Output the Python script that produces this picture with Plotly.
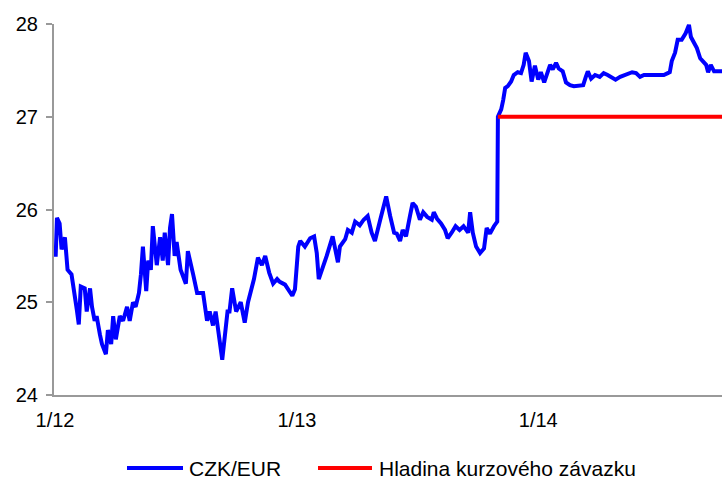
import plotly.graph_objects as go

# ---- data -----------------------------------------------------------------
czk_dates = [
    "2012-01-02", "2012-01-04", "2012-01-08", "2012-01-11", "2012-01-16", "2012-01-20",
    "2012-01-26", "2012-01-31", "2012-02-03", "2012-02-06", "2012-02-09", "2012-02-15",
    "2012-02-18", "2012-02-23", "2012-02-26", "2012-03-01", "2012-03-04", "2012-03-09",
    "2012-03-12", "2012-03-18", "2012-03-21", "2012-03-26", "2012-03-29", "2012-04-02",
    "2012-04-05", "2012-04-08", "2012-04-13", "2012-04-19", "2012-04-23", "2012-04-28",
    "2012-05-02", "2012-05-07", "2012-05-10", "2012-05-13", "2012-05-18", "2012-05-21",
    "2012-05-25", "2012-05-28", "2012-06-03", "2012-06-08", "2012-06-12", "2012-06-15",
    "2012-06-20", "2012-06-23", "2012-06-26", "2012-06-30", "2012-07-03", "2012-07-09",
    "2012-07-17", "2012-07-20", "2012-07-28", "2012-08-03", "2012-08-12", "2012-08-18",
    "2012-08-22", "2012-08-27", "2012-08-31", "2012-09-03", "2012-09-07", "2012-09-10",
    "2012-09-18", "2012-09-21", "2012-09-25", "2012-10-01", "2012-10-08", "2012-10-14",
    "2012-10-19", "2012-10-28", "2012-11-03", "2012-11-09", "2012-11-14", "2012-11-20",
    "2012-11-26", "2012-12-02", "2012-12-06", "2012-12-14", "2012-12-25", "2012-12-29",
    "2013-01-03", "2013-01-06", "2013-01-13", "2013-01-21", "2013-01-27", "2013-01-31",
    "2013-02-03", "2013-02-08", "2013-02-15", "2013-02-24", "2013-03-01", "2013-03-04",
    "2013-03-07", "2013-03-15", "2013-03-19", "2013-03-25", "2013-03-30", "2013-04-06",
    "2013-04-12", "2013-04-18", "2013-04-24", "2013-04-29", "2013-05-07", "2013-05-11",
    "2013-05-16", "2013-05-22", "2013-05-28", "2013-06-01", "2013-06-06", "2013-06-10",
    "2013-06-15", "2013-06-21", "2013-06-25", "2013-06-30", "2013-07-06", "2013-07-11",
    "2013-07-17", "2013-07-24", "2013-07-27", "2013-08-01", "2013-08-07", "2013-08-13",
    "2013-08-17", "2013-08-23", "2013-08-29", "2013-09-04", "2013-09-10", "2013-09-17",
    "2013-09-20", "2013-09-24", "2013-09-29", "2013-10-05", "2013-10-11", "2013-10-15",
    "2013-10-20", "2013-10-26", "2013-10-31", "2013-11-01", "2013-11-06", "2013-11-09",
    "2013-11-12", "2013-11-16", "2013-11-21", "2013-11-25", "2013-12-01", "2013-12-06",
    "2013-12-10", "2013-12-13", "2013-12-18", "2013-12-22", "2013-12-27", "2014-01-01",
    "2014-01-05", "2014-01-10", "2014-01-14", "2014-01-19", "2014-01-23", "2014-01-28",
    "2014-02-01", "2014-02-07", "2014-02-12", "2014-02-18", "2014-02-24", "2014-03-02",
    "2014-03-10", "2014-03-14", "2014-03-17", "2014-03-22", "2014-03-28", "2014-04-04",
    "2014-04-10", "2014-04-16", "2014-04-22", "2014-04-28", "2014-05-05", "2014-05-11",
    "2014-05-17", "2014-05-23", "2014-05-29", "2014-06-04", "2014-06-10", "2014-06-16",
    "2014-06-22", "2014-06-28", "2014-07-04", "2014-07-10", "2014-07-16", "2014-07-19",
    "2014-07-22", "2014-07-27", "2014-07-31", "2014-08-06", "2014-08-12", "2014-08-17",
    "2014-08-20", "2014-08-25", "2014-08-29", "2014-09-03", "2014-09-07", "2014-09-12",
    "2014-09-15", "2014-09-19", "2014-09-24", "2014-09-30", "2014-10-06",
]
czk_values = [
    25.49, 25.91, 25.85, 25.57, 25.70, 25.35,
    25.30, 25.10, 24.92, 24.76, 25.17, 25.15,
    24.90, 25.15, 24.95, 24.80, 24.85, 24.65,
    24.55, 24.44, 24.70, 24.55, 24.85, 24.60,
    24.70, 24.85, 24.80, 24.95, 24.80, 25.00,
    24.95, 25.10, 25.30, 25.60, 25.12, 25.45,
    25.35, 25.82, 25.40, 25.70, 25.45, 25.75,
    25.40, 25.80, 25.95, 25.50, 25.65, 25.35,
    25.20, 25.55, 25.30, 25.10, 25.10, 24.80,
    24.90, 24.75, 24.90, 24.75, 24.55, 24.38,
    24.90, 24.90, 25.15, 24.90, 25.00, 24.78,
    25.00, 25.25, 25.48, 25.40, 25.50, 25.32,
    25.20, 25.25, 25.22, 25.19, 25.07, 25.14,
    25.60, 25.66, 25.60, 25.69, 25.71, 25.53,
    25.25, 25.35, 25.50, 25.71, 25.53, 25.43,
    25.60, 25.68, 25.78, 25.75, 25.87, 25.83,
    25.89, 25.93, 25.75, 25.66, 25.89, 26.00,
    26.14, 25.93, 25.75, 25.74, 25.66, 25.78,
    25.71, 25.93, 26.07, 26.03, 25.89, 25.97,
    25.92, 25.89, 25.97, 25.90, 25.85, 25.78,
    25.69, 25.75, 25.82, 25.78, 25.82, 25.75,
    25.97, 25.75, 25.60, 25.53, 25.58, 25.80,
    25.74, 25.82, 25.87, 27.00, 27.08, 27.18,
    27.31, 27.33, 27.38, 27.45, 27.48, 27.47,
    27.56, 27.69, 27.60, 27.38, 27.55, 27.40,
    27.48, 27.37, 27.47, 27.56, 27.51, 27.58,
    27.52, 27.49, 27.37, 27.34, 27.33, 27.33,
    27.34, 27.43, 27.49, 27.41, 27.45, 27.43,
    27.47, 27.45, 27.43, 27.40, 27.43, 27.45,
    27.47, 27.48, 27.47, 27.43, 27.45, 27.45,
    27.45, 27.44, 27.45, 27.45, 27.47, 27.48,
    27.60, 27.69, 27.83, 27.83, 27.90, 27.99,
    27.86, 27.78, 27.74, 27.63, 27.60, 27.56,
    27.48, 27.56, 27.49, 27.49, 27.49,
]

floor_dates = ["2013-11-01", "2014-10-06"]
floor_values = [27.0, 27.0]

series_names = ["CZK/EUR", "Hladina kurzového závazku"]
series_colors = ["#0000FF", "#FF0000"]

x_tick_vals = ["2012-01-01", "2013-01-01", "2014-01-01"]
x_tick_text = ["1/12", "1/13", "1/14"]
y_tick_vals = [24, 25, 26, 27, 28]

# ---- figure ---------------------------------------------------------------
W, H = 722, 479
ML, MR, MT, MB = 54, 0, 24, 84
PW = W - ML - MR
PH = H - MT - MB

fig = go.Figure()
fig.add_trace(go.Scatter(x=czk_dates, y=czk_values, mode="lines",
                         name=series_names[0],
                         line=dict(color=series_colors[0], width=4),
                         showlegend=False))
fig.add_trace(go.Scatter(x=floor_dates, y=floor_values, mode="lines",
                         name=series_names[1],
                         line=dict(color=series_colors[1], width=4),
                         showlegend=False))

font = "Liberation Sans, Arial, sans-serif"
axis_col = "#999999"

fig.update_layout(
    width=W, height=H,
    margin=dict(l=ML, r=MR, t=MT, b=MB, pad=0),
    paper_bgcolor="white", plot_bgcolor="white",
    font=dict(family=font, size=20, color="black"),
    xaxis=dict(type="date", range=["2011-12-30 12:00", "2014-10-06"],
               tickvals=x_tick_vals, ticktext=x_tick_text,
               showgrid=False, zeroline=False, showline=True,
               linecolor=axis_col, linewidth=2, ticks="",
               ticklabelstandoff=6,
               tickfont=dict(family=font, size=20, color="black")),
    yaxis=dict(range=[24, 28], tickvals=y_tick_vals,
               showgrid=False, zeroline=False, showline=True,
               linecolor=axis_col, linewidth=2, ticks="outside",
               ticklen=6, tickwidth=2, tickcolor=axis_col,
               ticklabelstandoff=4,
               tickfont=dict(family=font, size=20, color="black")),
)

# custom legend (long line samples as in the original)
def px2paper_x(p):
    return (p - ML) / PW

def py2paper_y(p):
    return (H - MB - p) / PH

legend_y = py2paper_y(468)
legend_items = [
    (127, 183, 187),
    (318, 372, 377),
]
for (x0, x1, xt), name, col in zip(legend_items, series_names, series_colors):
    fig.add_shape(type="line", xref="paper", yref="paper",
                  x0=px2paper_x(x0), x1=px2paper_x(x1), y0=legend_y, y1=legend_y,
                  line=dict(color=col, width=4))
    fig.add_annotation(xref="paper", yref="paper", x=px2paper_x(xt), y=legend_y,
                       text=name, showarrow=False, xanchor="left", yanchor="middle",
                       font=dict(family=font, size=21, color="black"))

fig.write_html("out.html",
               config={"displayModeBar": False},
               post_script="document.body.style.margin='0px';document.body.style.overflow='hidden';")
